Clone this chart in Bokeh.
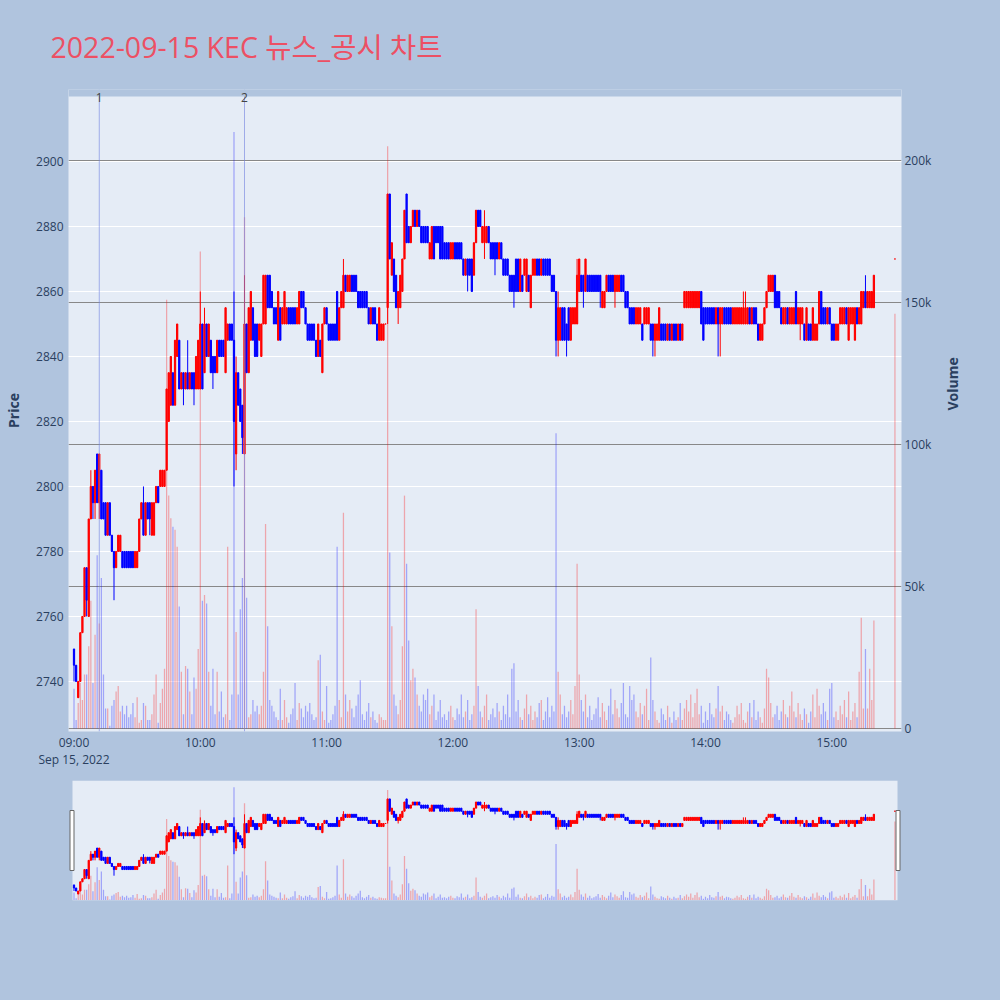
import math
import numpy as np
import pandas as pd
from bokeh.plotting import figure
from bokeh.layouts import column
from bokeh.models import (ColumnDataSource, Range1d, LinearAxis, Grid, FixedTicker,
                          DatetimeTickFormatter, CustomJSTickFormatter, Span, Label, BoxAnnotation)
from bokeh.embed import file_html
from bokeh.resources import INLINE

TITLE = "2022-09-15 KEC 뉴스_공시 차트"
session_start = "2022-09-15 09:00"
closing_auction = "2022-09-15 15:30"

opens = [
    2750,2745,2735,2740,2755,2760,2775,2760,2790,2800,
    2795,2810,2795,2805,2795,2795,2785,2795,2785,2780,
    2775,2780,2780,2780,2780,2780,2780,2780,2780,2775,
    2775,2780,2790,2795,2785,2795,2795,2785,2785,2795,
    2800,2800,2800,2800,2805,2820,2825,2835,2825,2840,
    2845,2830,2835,2830,2835,2830,2835,2835,2830,2830,
    2830,2850,2835,2850,2840,2845,2840,2840,2835,2845,
    2845,2845,2835,2845,2850,2850,2845,2810,2835,2830,
    2825,2810,2850,2835,2845,2855,2850,2850,2845,2840,
    2850,2850,2865,2865,2860,2855,2855,2845,2855,2850,
    2850,2850,2855,2855,2855,2855,2850,2850,2860,2860,
    2855,2850,2850,2850,2850,2845,2840,2845,2835,2850,
    2855,2850,2850,2850,2850,2860,2845,2855,2855,2865,
    2860,2860,2865,2865,2865,2860,2860,2860,2860,2860,
    2855,2850,2855,2855,2850,2845,2845,2845,2850,2855,
    2890,2865,2870,2865,2855,2855,2860,2870,2890,2880,
    2875,2880,2885,2880,2885,2880,2880,2880,2880,2870,
    2870,2880,2880,2880,2880,2880,2875,2875,2875,2870,
    2870,2875,2875,2875,2875,2870,2865,2870,2870,2870,
    2865,2875,2885,2885,2875,2875,2875,2880,2875,2875,
    2875,2875,2870,2875,2870,2870,2870,2865,2865,2865,
    2870,2870,2860,2865,2865,2860,2865,2855,2865,2865,
    2870,2870,2865,2870,2870,2870,2870,2865,2865,2860,
    2845,2845,2855,2855,2850,2855,2845,2850,2850,2850,
    2860,2865,2865,2860,2865,2865,2865,2865,2865,2865,
    2865,2855,2855,2860,2865,2865,2865,2860,2860,2860,
    2865,2865,2860,2860,2855,2855,2855,2850,2850,2850,
    2850,2850,2850,2850,2850,2850,2845,2845,2845,2850,
    2850,2850,2845,2850,2845,2850,2850,2845,2850,2845,
    2855,2855,2855,2855,2855,2855,2855,2855,2860,2855,
    2855,2855,2855,2855,2855,2850,2855,2850,2850,2855,
    2855,2855,2855,2850,2850,2850,2850,2850,2850,2850,
    2850,2855,2850,2855,2855,2850,2845,2845,2850,2855,
    2860,2860,2860,2865,2860,2860,2855,2850,2850,2855,
    2850,2850,2850,2860,2850,2850,2850,2850,2845,2850,
    2850,2845,2845,2845,2850,2860,2855,2855,2850,2855,
    2850,2850,2845,2845,2850,2850,2850,2855,2845,2850,
    2850,2845,2855,2850,2850,2855,2860,2855,2855,2855,
    2855,
    2870,
]
highs = [
    2750,2745,2740,2755,2760,2775,2775,2790,2805,2800,
    2805,2810,2810,2805,2795,2795,2795,2795,2785,2780,
    2780,2785,2785,2780,2780,2780,2780,2780,2780,2780,
    2780,2790,2795,2800,2795,2795,2795,2795,2795,2800,
    2800,2805,2805,2805,2830,2835,2840,2835,2845,2850,
    2845,2835,2835,2835,2845,2835,2835,2835,2840,2845,
    2860,2850,2855,2850,2850,2845,2840,2840,2845,2845,
    2845,2845,2855,2850,2850,2850,2860,2840,2835,2830,
    2825,2865,2850,2855,2860,2855,2850,2850,2850,2850,
    2865,2865,2865,2865,2860,2855,2855,2860,2855,2855,
    2860,2855,2855,2855,2855,2855,2855,2860,2860,2860,
    2855,2850,2850,2850,2850,2845,2850,2845,2850,2855,
    2855,2850,2850,2850,2850,2860,2855,2860,2870,2865,
    2865,2865,2865,2865,2865,2860,2860,2860,2860,2860,
    2855,2855,2855,2855,2850,2855,2850,2850,2850,2890,
    2890,2875,2870,2865,2860,2865,2870,2885,2890,2880,
    2880,2885,2885,2885,2885,2880,2880,2880,2880,2875,
    2880,2880,2880,2880,2880,2880,2875,2875,2875,2875,
    2875,2875,2875,2875,2875,2870,2870,2870,2870,2870,
    2875,2885,2885,2885,2880,2885,2880,2880,2875,2875,
    2875,2875,2875,2875,2870,2870,2870,2865,2865,2865,
    2870,2870,2870,2865,2870,2870,2865,2865,2870,2870,
    2870,2870,2870,2870,2870,2870,2870,2865,2865,2860,
    2860,2855,2855,2855,2850,2855,2855,2855,2855,2870,
    2870,2865,2865,2870,2865,2865,2865,2865,2865,2865,
    2865,2860,2860,2865,2865,2865,2865,2865,2865,2865,
    2865,2865,2860,2860,2855,2855,2855,2855,2855,2855,
    2850,2855,2855,2855,2850,2850,2850,2850,2855,2850,
    2850,2850,2850,2850,2850,2850,2850,2850,2850,2850,
    2860,2860,2860,2860,2860,2860,2860,2860,2860,2855,
    2855,2855,2855,2855,2855,2855,2855,2855,2855,2855,
    2855,2855,2855,2855,2855,2855,2855,2855,2860,2860,
    2855,2855,2855,2855,2855,2850,2850,2850,2855,2860,
    2865,2865,2865,2865,2860,2860,2855,2855,2855,2855,
    2855,2855,2855,2860,2855,2855,2855,2850,2855,2850,
    2850,2855,2850,2850,2860,2860,2855,2855,2855,2855,
    2850,2850,2850,2850,2855,2855,2855,2855,2855,2855,
    2855,2855,2855,2855,2860,2860,2865,2860,2860,2860,
    2865,
    2870,
]
lows = [
    2740,2740,2735,2740,2755,2760,2760,2760,2790,2790,
    2790,2795,2790,2790,2790,2785,2785,2785,2780,2765,
    2775,2780,2780,2775,2775,2775,2775,2775,2775,2775,
    2775,2780,2790,2785,2785,2790,2785,2785,2785,2795,
    2795,2800,2800,2800,2805,2820,2825,2825,2825,2840,
    2830,2830,2825,2830,2830,2830,2830,2825,2830,2830,
    2830,2830,2835,2840,2840,2835,2830,2835,2835,2840,
    2840,2840,2835,2845,2845,2845,2800,2805,2825,2820,
    2810,2810,2835,2835,2845,2845,2840,2840,2845,2840,
    2850,2850,2855,2855,2855,2850,2850,2845,2845,2850,
    2850,2850,2850,2850,2850,2850,2850,2850,2855,2855,
    2850,2845,2845,2845,2845,2840,2840,2840,2835,2850,
    2850,2845,2845,2845,2845,2845,2845,2855,2855,2860,
    2860,2860,2860,2860,2860,2855,2855,2855,2855,2855,
    2850,2850,2850,2850,2845,2845,2845,2845,2850,2850,
    2870,2865,2860,2855,2850,2855,2860,2870,2875,2875,
    2875,2880,2880,2880,2880,2875,2875,2875,2875,2870,
    2870,2870,2875,2875,2870,2870,2870,2870,2870,2870,
    2870,2870,2870,2870,2870,2865,2865,2860,2865,2860,
    2865,2875,2880,2880,2875,2870,2875,2875,2870,2870,
    2865,2870,2870,2870,2865,2865,2865,2860,2860,2855,
    2860,2860,2860,2860,2865,2860,2860,2855,2865,2865,
    2865,2865,2865,2865,2865,2865,2865,2860,2860,2840,
    2840,2845,2845,2845,2840,2845,2845,2850,2850,2850,
    2860,2860,2855,2860,2860,2860,2860,2860,2860,2860,
    2855,2855,2855,2860,2860,2860,2860,2855,2860,2860,
    2860,2860,2855,2855,2850,2850,2850,2850,2850,2850,
    2845,2850,2850,2850,2845,2840,2840,2845,2845,2845,
    2845,2845,2845,2845,2845,2845,2845,2845,2845,2845,
    2855,2855,2855,2855,2855,2855,2855,2855,2850,2845,
    2850,2850,2850,2850,2850,2850,2840,2840,2850,2850,
    2850,2850,2850,2850,2850,2850,2850,2850,2850,2850,
    2850,2850,2850,2850,2850,2845,2845,2845,2850,2855,
    2860,2860,2860,2855,2855,2855,2850,2850,2850,2850,
    2850,2850,2850,2850,2850,2845,2850,2845,2845,2845,
    2845,2845,2845,2845,2850,2850,2850,2850,2850,2850,
    2845,2845,2845,2845,2850,2850,2850,2850,2845,2850,
    2850,2845,2850,2850,2850,2855,2855,2855,2855,2855,
    2855,
    2870,
]
closes = [
    2745,2740,2740,2755,2760,2775,2765,2790,2800,2795,
    2805,2795,2810,2790,2790,2785,2795,2785,2780,2775,
    2780,2785,2785,2775,2775,2775,2775,2775,2775,2780,
    2780,2790,2795,2785,2795,2790,2790,2795,2795,2800,
    2795,2805,2805,2805,2830,2835,2840,2825,2845,2850,
    2830,2835,2830,2835,2830,2835,2830,2830,2840,2845,
    2850,2830,2850,2840,2850,2835,2835,2835,2845,2840,
    2840,2840,2855,2850,2845,2845,2820,2835,2825,2820,
    2815,2850,2835,2855,2860,2845,2840,2840,2850,2850,
    2865,2865,2855,2855,2855,2850,2850,2860,2845,2855,
    2860,2855,2850,2850,2850,2850,2855,2860,2855,2855,
    2850,2845,2845,2845,2845,2840,2850,2840,2850,2855,
    2850,2845,2845,2845,2845,2845,2855,2860,2865,2860,
    2865,2865,2860,2860,2860,2855,2855,2855,2855,2855,
    2850,2855,2850,2850,2845,2855,2850,2850,2850,2890,
    2870,2875,2860,2855,2860,2865,2870,2885,2875,2875,
    2880,2885,2880,2885,2880,2875,2875,2875,2875,2875,
    2880,2870,2875,2875,2870,2870,2870,2870,2870,2875,
    2875,2870,2870,2870,2870,2865,2870,2865,2865,2860,
    2875,2885,2880,2880,2880,2880,2880,2875,2870,2870,
    2870,2870,2875,2870,2865,2865,2865,2860,2860,2860,
    2860,2860,2870,2860,2870,2870,2860,2865,2870,2870,
    2865,2865,2870,2865,2865,2865,2865,2860,2860,2845,
    2855,2855,2845,2845,2845,2845,2855,2855,2855,2865,
    2870,2860,2860,2870,2860,2860,2860,2860,2860,2860,
    2860,2860,2860,2865,2860,2860,2860,2865,2865,2865,
    2860,2860,2855,2855,2850,2850,2850,2855,2855,2855,
    2845,2855,2855,2855,2845,2845,2850,2850,2855,2845,
    2845,2845,2850,2845,2850,2845,2845,2850,2845,2850,
    2860,2860,2860,2860,2860,2860,2860,2860,2850,2845,
    2850,2850,2850,2850,2850,2855,2850,2855,2855,2850,
    2850,2850,2850,2855,2855,2855,2855,2855,2855,2855,
    2855,2850,2855,2850,2850,2845,2850,2850,2855,2860,
    2865,2865,2865,2855,2855,2855,2850,2855,2855,2850,
    2855,2855,2855,2850,2855,2855,2855,2845,2855,2845,
    2845,2855,2850,2850,2860,2850,2850,2850,2855,2850,
    2845,2845,2850,2850,2855,2855,2855,2850,2855,2855,
    2855,2855,2850,2855,2860,2860,2855,2860,2860,2860,
    2865,
    2870,
]
volumes_k = [
    14,3,9,16,10,19,19,29,45,16,
    33,61,37,53,19,7,7,1,8,10,
    13,15,6,8,5,8,4,5,9,4,
    11,2,3,9,8,3,3,5,12,19,
    2,9,14,21,151,82,74,71,70,64,
    43,20,5,22,21,13,5,18,14,28,
    168,45,47,44,20,8,21,5,20,6,
    13,4,5,64,3,12,210,34,12,42,
    53,180,46,4,5,10,6,8,5,8,
    20,72,36,10,8,6,4,3,14,3,
    10,4,2,5,7,16,3,9,7,4,
    8,6,9,5,3,4,24,26,6,3,
    15,2,3,5,8,64,10,4,76,12,
    6,10,7,4,8,12,17,5,3,6,
    9,4,6,3,2,5,4,3,3,205,
    62,36,12,8,5,10,29,82,58,31,
    17,21,18,12,8,6,12,10,14,5,
    8,12,3,6,10,4,5,3,6,8,
    4,3,7,5,12,4,6,10,3,5,
    8,42,15,6,4,8,12,3,5,7,
    4,9,6,3,8,5,12,4,21,23,
    6,10,4,3,7,12,5,8,3,6,
    4,9,10,3,6,11,4,8,6,104,
    20,12,5,8,4,6,10,5,15,58,
    19,10,6,12,4,8,3,5,7,11,
    4,9,6,3,8,14,5,10,7,4,
    9,16,5,4,15,10,12,6,4,9,
    5,8,14,3,25,10,6,3,2,7,
    5,3,8,4,2,6,3,4,9,3,
    7,10,6,12,4,9,14,5,8,2,
    6,3,9,5,4,7,15,6,8,3,
    6,5,3,2,4,8,5,9,3,2,
    6,9,4,10,3,6,4,2,7,21,
    18,9,4,5,8,3,6,10,5,4,
    8,13,6,4,9,5,3,7,5,2,
    6,12,4,14,8,5,9,6,3,14,
    16,4,6,3,8,5,10,4,13,3,
    6,9,4,20,39,7,28,7,21,10,
    38,
    146,
]

news_times = ["2022-09-15 09:12", "2022-09-15 10:21"]
news_labels = ["1", "2"]
price_ticks = [2740, 2760, 2780, 2800, 2820, 2840, 2860, 2880, 2900]
volume_ticks = [0, 50000, 100000, 150000, 200000]
hour_ticks = ["2022-09-15 09:00", "2022-09-15 10:00", "2022-09-15 11:00", "2022-09-15 12:00",
              "2022-09-15 13:00", "2022-09-15 14:00", "2022-09-15 15:00"]

# ---------------------------------------------------------------- data table
times = list(pd.date_range(session_start, periods=len(opens) - 1, freq="min")) + [pd.Timestamp(closing_auction)]
o = np.array(opens, dtype=float)
c = np.array(closes, dtype=float)
inc = c >= o
src = ColumnDataSource(dict(
    t=times, o=o, h=highs, l=lows, c=c,
    top=np.maximum(o, c), bot=np.minimum(o, c),
    vol=np.array(volumes_k, dtype=float) * 1000,
    color=np.where(inc, "#FF0000", "#0000FF"),
))

def ms(s):
    return pd.Timestamp(s).value / 1e6

BG = "#B0C4DE"
PLOT_BG = "#E5ECF6"
TXT = "#2a3f5f"
FONT = "'Open Sans', 'Noto Sans CJK KR', sans-serif"
BAR_W = 36000  # ms
W = 1000

x_start, x_end = pd.Timestamp("2022-09-15 08:57:23"), pd.Timestamp("2022-09-15 15:33:07")

# ---------------------------------------------------------------- main chart
# frame: x 68..901, y 89..731 (top 7 px masked so plot area starts at 96)
p = figure(width=W, height=780, x_axis_type="datetime", x_range=Range1d(x_start, x_end),
           y_range=Range1d(2724.6, 2922.15), output_backend="svg", toolbar_location=None,
           min_border_left=68, min_border_right=99, min_border_top=89, min_border_bottom=49,
           background_fill_color=PLOT_BG, border_fill_color=BG, outline_line_color=None)
p.extra_y_ranges = {"vol": Range1d(-1056, 225000)}

p.title.text = TITLE
p.title.align = "left"
p.title.offset = -18
p.title.standoff = 47
p.title.text_font = FONT
p.title.text_font_size = "28.5px"
p.title.text_font_style = "normal"
p.title.text_color = "#EC5064"

p.vbar(x="t", top="vol", bottom=0, width=BAR_W, fill_color="color", fill_alpha=0.3,
       line_color=None, y_range_name="vol", source=src)
p.segment(x0="t", y0="h", x1="t", y1="l", line_color="color", line_width=1, source=src)
p.vbar(x="t", top="top", bottom="bot", width=BAR_W, fill_color="color",
       line_color="color", line_width=1, source=src)

pt = FixedTicker(ticks=price_ticks)
p.yaxis.ticker = pt
p.ygrid.ticker = pt
p.ygrid.grid_line_color = "white"
p.ygrid.grid_line_width = 1
p.xgrid.visible = False

vt = FixedTicker(ticks=volume_ticks)
vax = LinearAxis(y_range_name="vol", ticker=vt,
                 formatter=CustomJSTickFormatter(code="return tick == 0 ? '0' : (tick / 1000) + 'k';"))
p.add_layout(vax, "right")
p.add_layout(Grid(dimension=1, ticker=vt, y_range_name="vol", grid_line_color="#888888",
                  grid_line_width=1))

p.xaxis.ticker = FixedTicker(ticks=[ms(h) for h in hour_ticks])
ctx = DatetimeTickFormatter(hours="%b %d, %Y", hourmin="%b %d, %Y", minutes="%b %d, %Y",
                            minsec="%b %d, %Y", days="%b %d, %Y")
p.xaxis.formatter = DatetimeTickFormatter(hours="%H:%M", hourmin="%H:%M", minutes="%H:%M",
                                          minsec="%H:%M", days="%H:%M",
                                          context=ctx, context_which="start")

yax = p.yaxis[0]
xax = p.xaxis[0]
for ax in [xax, yax, vax]:
    ax.axis_line_color = None
    ax.major_tick_line_color = None
    ax.minor_tick_line_color = None
    ax.major_tick_out = 0
    ax.major_label_text_font = "Open Sans"
    ax.major_label_text_font_size = "12px"
    ax.major_label_text_color = TXT
    ax.axis_label_text_font = "Open Sans"
    ax.axis_label_text_font_size = "14px"
    ax.axis_label_text_font_style = "bold"
    ax.axis_label_text_color = TXT
yax.major_label_standoff = 5
vax.major_label_standoff = 3
xax.major_label_standoff = 2
xax.major_label_text_line_height = 1.0
yax.axis_label = "Price"
yax.axis_label_standoff = 10
vax.axis_label = "Volume"
vax.axis_label_standoff = 18
if hasattr(vax, "axis_label_orientation"):
    vax.axis_label_orientation = math.pi / 2

for nt in news_times:
    p.add_layout(Span(location=ms(nt), dimension="height", line_color="#6f80e0",
                      line_alpha=0.6, line_width=1))
# mask the top 7 px of the frame so the plot area starts where the reference's does
p.add_layout(BoxAnnotation(bottom=635, top=650, bottom_units="screen", top_units="screen",
                           fill_color=BG, fill_alpha=1.0, line_color=None))
for nt, lab in zip(news_times, news_labels):
    p.add_layout(Label(x=ms(nt), y=634, y_units="screen", text=lab, text_font="Open Sans",
                       text_font_size="12px", text_color="#444444", text_align="center",
                       text_baseline="middle"))

# ---------------------------------------------------------------- range slider
# frame: x 68..901, y 780..900 ; slider background 72..897
s = figure(width=W, height=212, x_axis_type="datetime", x_range=Range1d(x_start, x_end),
           y_range=Range1d(2724.6, 2920), x_axis_location=None, y_axis_location=None,
           output_backend="svg", toolbar_location=None,
           min_border_left=68, min_border_right=99, min_border_top=0, min_border_bottom=92,
           background_fill_color=BG, border_fill_color=BG, outline_line_color=None)
s.extra_y_ranges = {"vol": Range1d(-1056, 222535)}
s.grid.visible = False
s.add_layout(BoxAnnotation(left=4, right=829, left_units="screen", right_units="screen",
                           fill_color=PLOT_BG, fill_alpha=1.0, line_color=None, level="underlay"))
s.vbar(x="t", top="vol", bottom=0, width=BAR_W, fill_color="color", fill_alpha=0.3,
       line_color=None, y_range_name="vol", source=src)
s.segment(x0="t", y0="h", x1="t", y1="l", line_color="color", line_width=1, source=src)
s.vbar(x="t", top="top", bottom="bot", width=BAR_W, fill_color="color",
       line_color="color", line_width=1, source=src)
for left in (1.5, 827.5):
    s.add_layout(BoxAnnotation(left=left, right=left + 4, bottom=30, top=90,
                               left_units="screen", right_units="screen",
                               bottom_units="screen", top_units="screen",
                               fill_color="white", fill_alpha=1.0,
                               line_color="#666666", line_width=1, line_alpha=1.0))

layout = column(p, s, spacing=0)
html = file_html(layout, INLINE, title="KEC chart")
html = html.replace("</head>",
                    "<style>html, body { margin: 0; padding: 0; background: #B0C4DE; }</style></head>", 1)
open("out.html", "w").write(html)
